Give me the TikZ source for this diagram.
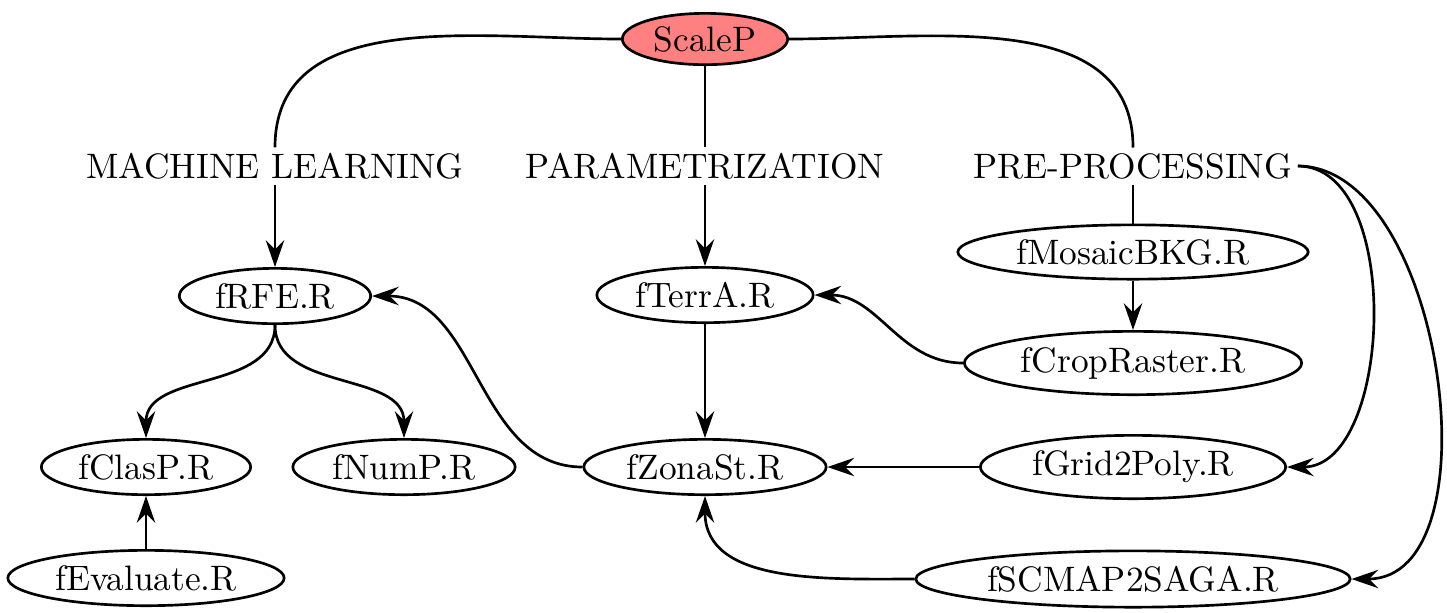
\documentclass[tikz,border=0pt]{standalone}
\usepackage{fontspec}
\usetikzlibrary{shapes.geometric,arrows.meta}
\newcommand\zt[1]{\makebox[0pt]{#1}}
\definecolor{rootfill}{RGB}{255,128,128}
\begin{document}
\begin{tikzpicture}[x=0.3pt,y=-0.3pt,
  every node/.style={font=\fontsize{10.6pt}{12.7pt}\selectfont},
  conn/.style={thick,-{Stealth[length=8pt,width=5.5pt,inset=2.7pt]}},
  plain/.style={thick},
  fn/.style={ellipse,draw,thick,inner sep=0pt},
  lab/.style={inner sep=1.5pt}]
\useasboundingbox (0,0) rectangle (1447,612);
% nodes
\node[fn,fill=rootfill,minimum width=49.6pt,minimum height=15.4pt] (scalep) at (705,39) {\zt{ScaleP}};
\node[lab] (ml)  at (275,166) {MACHINE LEARNING};
\node[lab] (par) at (705,166) {PARAMETRIZATION};
\node[lab] (pre) at (1133,166) {PRE-PROCESSING};
\node[fn,minimum width=57.4pt,minimum height=16.6pt] (rfe) at (275,296) {\zt{fRFE.R}};
\node[fn,minimum width=64.9pt,minimum height=16.6pt] (terra) at (705,295) {\zt{fTerrA.R}};
\node[fn,minimum width=105.1pt,minimum height=16.3pt] (mosaic) at (1133,252) {\zt{fMosaicBKG.R}};
\node[fn,minimum width=101.2pt,minimum height=19pt] (crop) at (1133,363) {\zt{fCropRaster.R}};
\node[fn,minimum width=62.8pt,minimum height=16.6pt] (clasp) at (146,467) {\zt{fClasP.R}};
\node[fn,minimum width=66.7pt,minimum height=16.6pt] (nump) at (404,467) {\zt{fNumP.R}};
\node[fn,minimum width=72.7pt,minimum height=16.6pt] (zona) at (705,467) {\zt{fZonaSt.R}};
\node[fn,minimum width=91.6pt,minimum height=19pt] (grid) at (1133,467) {\zt{fGrid2Poly.R}};
\node[fn,minimum width=82.9pt,minimum height=16.6pt] (eval) at (146,578) {\zt{fEvaluate.R}};
\node[fn,minimum width=130.3pt,minimum height=16.9pt] (scmap) at (1133,579) {\zt{fSCMAP2SAGA.R}};
% connectors
\draw[plain] (scalep.west) to[out=180,in=90] (ml.north);
\draw[conn] (ml.south) -- (rfe.north);
\draw[plain] (scalep.south) -- (par.north);
\draw[conn] (par.south) -- (terra.north);
\draw[plain] (scalep.east) to[out=0,in=90] (pre.north);
\draw[plain] (pre.south) -- (mosaic.north);
\draw[conn] (mosaic) -- (crop);
\draw[conn] (crop.west) to[out=180,in=0] (terra.east);
\draw[conn] (terra) -- (zona);
\draw[conn] (grid) -- (zona);
\draw[conn] (scmap.west) to[out=180,in=-90] (zona.south);
\draw[conn] (zona.west) to[out=180,in=0] (rfe.east);
\draw[conn] (rfe.south) to[out=-90,in=90] (clasp.north);
\draw[conn] (rfe.south) to[out=-90,in=90] (nump.north);
\draw[conn] (eval) -- (clasp);
\draw[conn] (pre.east) to[out=0,in=0,looseness=0.9] (grid.east);
\draw[conn] (pre.east) to[out=0,in=0,looseness=0.9] (scmap.east);
\end{tikzpicture}
\end{document}
